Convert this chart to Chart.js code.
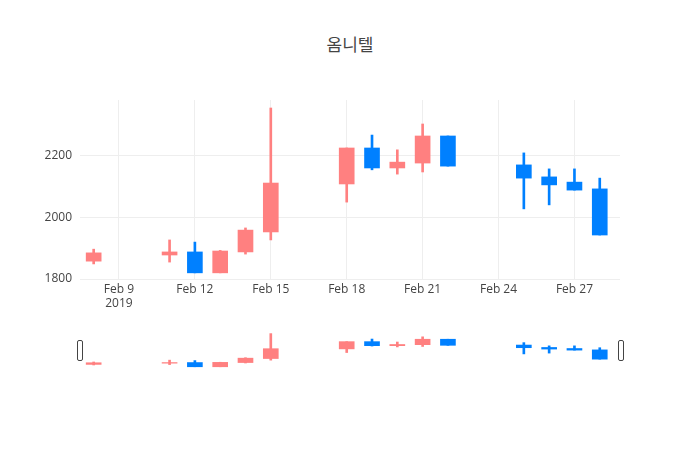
<!DOCTYPE html>
<html>
<head>
<meta charset="utf-8">
<script src="https://cdn.jsdelivr.net/npm/chart.js@4"></script>
<style>
  body { margin: 0; background: #fff; }
  #wrap { position: relative; width: 700px; height: 450px; }
  #title { position: absolute; top: 31px; left: 0; width: 700px; text-align: center;
    font-family: "Noto Sans CJK KR", "Open Sans", sans-serif; font-size: 17px; color: #444; }
  canvas { position: absolute; left: 0; }
  .handle { position: absolute; top: 340px; width: 4px; height: 19px; background: #fff;
    border: 1px solid #444; border-radius: 2px; }
</style>
</head>
<body>
<div id="wrap">
  <div id="title">옴니텔</div>
  <canvas id="main" width="700" height="330" style="top:0"></canvas>
  <canvas id="mini" width="700" height="40" style="top:330px"></canvas>
  <div class="handle" style="left:77px"></div>
  <div class="handle" style="left:618px"></div>
</div>
<script>
// day of February 2019
var days  = [8, 11, 12, 13, 14, 15, 18, 19, 20, 21, 22, 25, 26, 27, 28];
var open  = [1858, 1878, 1888, 1820, 1888, 1953, 2109, 2226, 2161, 2177, 2265, 2171, 2132, 2115, 2093];
var high  = [1897, 1927, 1920, 1893, 1966, 2356, 2226, 2268, 2220, 2304, 2265, 2210, 2158, 2158, 2128];
var low   = [1849, 1855, 1820, 1820, 1881, 1927, 2050, 2155, 2141, 2148, 2167, 2028, 2041, 2089, 1943];
var close = [1885, 1888, 1820, 1891, 1959, 2112, 2226, 2161, 2180, 2265, 2167, 2128, 2106, 2089, 1943];
var tickDays = [9, 12, 15, 18, 21, 24, 27];
var yTicks = [1800, 2000, 2200];

var UP = '#ff8080', DOWN = '#0080ff';
var colors = days.map(function (d, i) { return close[i] >= open[i] ? UP : DOWN; });
var bodies = days.map(function (d, i) {
  var lo = Math.min(open[i], close[i]), hi = Math.max(open[i], close[i]);
  if (hi - lo < 3) { hi += 1.5; lo -= 1.5; }
  return { x: d, y: [lo, hi] };
});
var wicks = days.map(function (d, i) { return { x: d, y: [low[i], high[i]] }; });

function datasets(bodyW, wickW) {
  return [
    { data: wicks, backgroundColor: colors, barThickness: wickW, grouped: false, order: 2 },
    { data: bodies, backgroundColor: colors, barThickness: bodyW, grouped: false, order: 1 }
  ];
}

var font = { family: 'Open Sans', size: 12 };

new Chart(document.getElementById('main'), {
  type: 'bar',
  data: { datasets: datasets(15, 2) },
  options: {
    responsive: false, animation: false,
    layout: { padding: { top: 100, right: 80, left: 0 } },
    plugins: { legend: { display: false }, tooltip: { enabled: false } },
    scales: {
      x: {
        type: 'linear', min: 7.46, max: 28.8, offset: false,
        afterBuildTicks: function (s) { s.ticks = tickDays.map(function (v) { return { value: v }; }); },
        afterFit: function (s) { s.height = 51; },
        ticks: {
          font: font, color: '#444', maxRotation: 0, autoSkip: false,
          callback: function (v) { return v === 9 ? ['Feb 9', '2019'] : 'Feb ' + v; }
        },
        grid: { color: '#eee', drawTicks: false, offset: false }, border: { display: false }
      },
      y: {
        min: 1800, max: 2382,
        afterBuildTicks: function (s) { s.ticks = yTicks.map(function (v) { return { value: v }; }); },
        afterFit: function (s) { s.width = 80; },
        ticks: { font: font, color: '#444', padding: 8, callback: function (v) { return String(v); } },
        grid: { color: '#eee', drawTicks: false }, border: { display: false }
      }
    }
  }
});

new Chart(document.getElementById('mini'), {
  type: 'bar',
  data: { datasets: datasets(15, 2) },
  options: {
    responsive: false, animation: false,
    layout: { padding: { left: 80, right: 80, top: 2, bottom: 2 } },
    plugins: { legend: { display: false }, tooltip: { enabled: false } },
    scales: {
      x: { type: 'linear', min: 7.46, max: 28.8, offset: false, display: false },
      y: { min: 1800, max: 2382, display: false }
    }
  }
});
</script>
</body>
</html>
